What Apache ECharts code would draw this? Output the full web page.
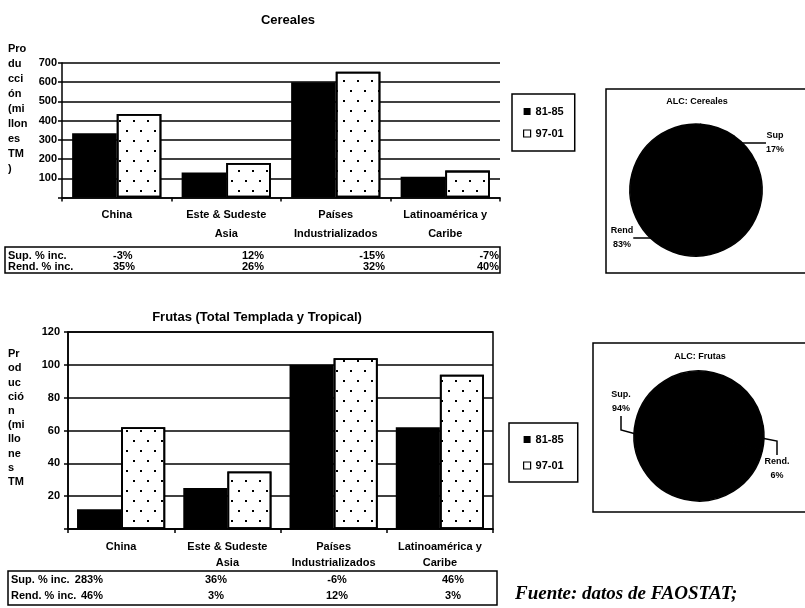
<!DOCTYPE html>
<html><head><meta charset="utf-8">
<script src="https://cdn.jsdelivr.net/npm/echarts@6/dist/echarts.min.js"></script>
<style>html,body{margin:0;padding:0;background:#fff}#c{width:805px;height:608px}</style>
</head><body><div id="c"></div>
<script>
const categories = ['China', 'Este & Sudeste\nAsia', 'Países\nIndustrializados', 'Latinoamérica y\nCaribe'];
const seriesNames = ['81-85', '97-01'];
const cereales8185 = [335, 130, 600, 108];
const cereales9701 = [435, 180, 655, 140];
const frutas8185 = [12, 25, 100, 62];
const frutas9701 = [62, 35, 104, 94];
const tableRowLabels = ['Sup. % inc.', 'Rend. % inc.'];
const cerealesSup = ['-3%', '12%', '-15%', '-7%'];
const cerealesRend = ['35%', '26%', '32%', '40%'];
const frutasSup = ['283%', '36%', '-6%', '46%'];
const frutasRend = ['46%', '3%', '12%', '3%'];
const pieCerealesNames = ['Sup', 'Rend'];
const pieCerealesValues = [17, 83];
const pieFrutasNames = ['Sup.', 'Rend.'];
const pieFrutasValues = [94, 6];
const titles = ['Cereales', 'Frutas (Total Templada y Tropical)', 'ALC: Cereales', 'ALC: Frutas'];
const yNameCereales = 'Pro\ndu\ncci\nón\n(mi\nllon\nes\nTM\n)';
const yNameFrutas = 'Pr\nod\nuc\nció\nn\n(mi\nllo\nne\ns\nTM';
const sourceNote = 'Fuente: datos de FAOSTAT;';

const F = '"Liberation Sans", Arial, sans-serif';
const K = '#000';
const chart = echarts.init(document.getElementById('c'), null, {renderer: 'canvas'});

const dotted = {color: '#fff', borderColor: K, borderWidth: 1.8,
  decal: {symbol: 'rect', symbolSize: 1, color: K, dashArrayX: [[2, 12], [0, 7, 2, 5]], dashArrayY: [2, 8]}};
const solid = {color: K};

function txt(text, x, y, opts) {
  return {type: 'text', silent: true, style: Object.assign({text: text, x: x, y: y, fill: K,
    fontFamily: F, fontWeight: 'bold', fontSize: 11, align: 'left', verticalAlign: 'middle'}, opts || {})};
}
function box(x, y, w, h) {
  return {type: 'rect', silent: true, shape: {x: x, y: y, width: w, height: h},
    style: {fill: 'none', stroke: K, lineWidth: 1.5}};
}

const topCols = [{x: 113, align: 'left'}, {x: 264, align: 'right'}, {x: 385, align: 'right'}, {x: 499, align: 'right'}];
const botCols = [{x: 103, align: 'right'}, {x: 216, align: 'center'}, {x: 337, align: 'center'}, {x: 453, align: 'center'}];

const graphics = [
  txt(titles[0], 288, 20, {align: 'center', fontSize: 13}),
  txt(titles[1], 257, 317, {align: 'center', fontSize: 13}),
  txt(titles[2], 697, 102, {align: 'center', fontSize: 9}),
  txt(titles[3], 700, 357, {align: 'center', fontSize: 9}),
  txt(yNameCereales, 8, 41, {verticalAlign: 'top', lineHeight: 15.1}),
  txt(yNameFrutas, 8, 347, {verticalAlign: 'top', lineHeight: 14.2}),
  box(5, 247, 495, 26),
  box(8, 571, 489, 34),
  box(606, 89, 200, 184),
  box(593, 343, 213, 169),
  txt(tableRowLabels[0], 8, 256),
  txt(tableRowLabels[1], 8, 267),
  txt(tableRowLabels[0], 11, 580),
  txt(tableRowLabels[1], 11, 596),
  txt(sourceNote, 515, 594, {fontFamily: '"Liberation Serif", serif', fontStyle: 'italic', fontWeight: 'bold', fontSize: 19})
];
cerealesSup.forEach((v, i) => graphics.push(txt(v, topCols[i].x, 256, {align: topCols[i].align})));
cerealesRend.forEach((v, i) => graphics.push(txt(v, topCols[i].x, 267, {align: topCols[i].align})));
frutasSup.forEach((v, i) => graphics.push(txt(v, botCols[i].x, 580, {align: botCols[i].align})));
frutasRend.forEach((v, i) => graphics.push(txt(v, botCols[i].x, 596, {align: botCols[i].align})));

function xAx(g, lh, margin) {
  return {gridIndex: g, type: 'category', data: categories,
    axisLine: {lineStyle: {color: K, width: 1.5}},
    axisTick: {show: true, length: 4, lineStyle: {color: K, width: 1.5}},
    axisLabel: {color: K, fontFamily: F, fontWeight: 'bold', fontSize: 11, lineHeight: lh, margin: margin, interval: 0}};
}
function yAx(g, max, interval, margin) {
  return {gridIndex: g, type: 'value', min: 0, max: max, interval: interval,
    axisLine: {show: true, lineStyle: {color: K, width: 1.5}},
    axisTick: {show: true, length: 4, lineStyle: {color: K, width: 1.5}},
    axisLabel: {color: K, fontFamily: F, fontWeight: 'bold', fontSize: 11, margin: margin,
      formatter: v => v === 0 ? '' : String(v)},
    splitLine: {show: true, lineStyle: {color: K, width: 1.5}}};
}
function legendBox(left, top, pad, gap) {
  return {left: left, top: top, orient: 'vertical', padding: pad, itemGap: gap,
    itemWidth: 7, itemHeight: 7, borderColor: K, borderWidth: 1.5, selectedMode: false,
    textStyle: {color: K, fontFamily: F, fontWeight: 'bold', fontSize: 11},
    data: [{name: seriesNames[0], icon: 'rect', itemStyle: {color: K}},
           {name: seriesNames[1], icon: 'rect', itemStyle: {color: '#fff', borderColor: K, borderWidth: 1.2, decal: 'none'}}]};
}
function pie(center, radius, start, names, values, lineLen, lineLen2, layouts) {
  return {type: 'pie', center: center, radius: radius, startAngle: start, clockwise: true,
    silent: true,
    data: names.map((n, i) => ({name: n, value: values[i]})),
    itemStyle: {color: K, borderColor: K, borderWidth: 1.5},
    label: {formatter: '{b}\n{c}%', color: K, fontFamily: F, fontWeight: 'bold', fontSize: 9, lineHeight: 14,
      overflow: 'none', bleedMargin: 0},
    labelLine: {length: lineLen, length2: lineLen2, lineStyle: {color: K, width: 1.5}},
    labelLayout: p => layouts[p.dataIndex]};
}

chart.setOption({
  animation: false,
  backgroundColor: '#fff',
  grid: [
    {left: 62, top: 63, width: 438, height: 134.5},
    {left: 68, top: 332, width: 425, height: 197, show: true, borderColor: K, borderWidth: 1.5}
  ],
  legend: [legendBox(512, 94, [12, 11], 11), legendBox(509, 423, [11, 14], 15)],
  xAxis: [xAx(0, 19, 8), xAx(1, 16, 10)],
  yAxis: [yAx(0, 700, 100, 5), yAx(1, 120, 20, 8)],
  series: [
    {type: 'bar', name: seriesNames[0], xAxisIndex: 0, yAxisIndex: 0, data: cereales8185, itemStyle: solid, barGap: '0%', barCategoryGap: '18.5%'},
    {type: 'bar', name: seriesNames[1], xAxisIndex: 0, yAxisIndex: 0, data: cereales9701, itemStyle: dotted, barGap: '0%', barCategoryGap: '18.5%'},
    {type: 'bar', name: seriesNames[0], xAxisIndex: 1, yAxisIndex: 1, data: frutas8185, itemStyle: solid, barGap: '0%', barCategoryGap: '17%'},
    {type: 'bar', name: seriesNames[1], xAxisIndex: 1, yAxisIndex: 1, data: frutas9701, itemStyle: dotted, barGap: '0%', barCategoryGap: '17%'},
    pie([696, 190], 66, 86, pieCerealesNames, pieCerealesValues, 1, 28,
      [{x: 775, y: 143, align: 'center', verticalAlign: 'middle'}, {x: 622, y: 238, align: 'center', verticalAlign: 'middle'}]),
    pie([699, 436], 65, -13, pieFrutasNames, pieFrutasValues, 4, 14,
      [{x: 621, y: 402, align: 'center', verticalAlign: 'middle'}, {x: 777, y: 469, align: 'center', verticalAlign: 'middle'}])
  ],
  graphic: graphics
});
</script></body></html>
